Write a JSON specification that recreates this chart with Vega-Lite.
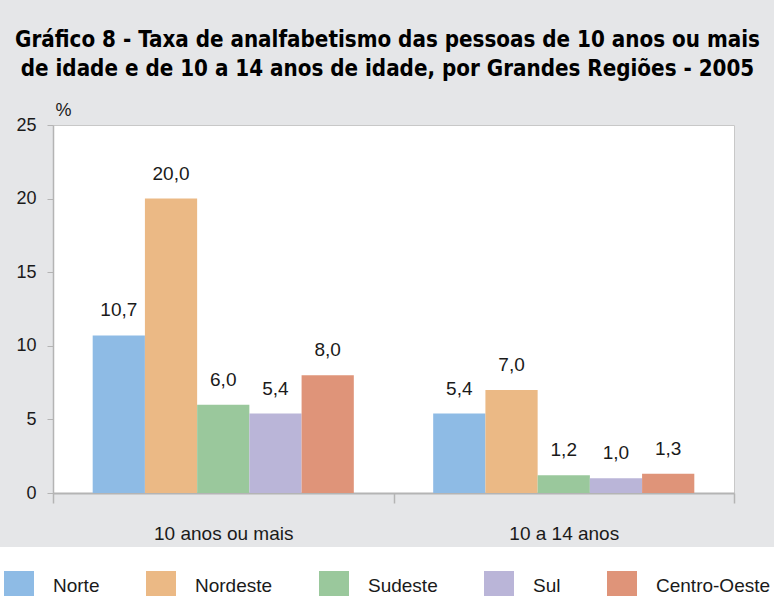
{
  "$schema": "https://vega.github.io/schema/vega-lite/v6.json",
  "width": 681,
  "height": 368,
  "autosize": {"type": "none"},
  "padding": {"left": 53, "top": 125, "right": 40, "bottom": 103},
  "background": "#e5e6e8",
  "config": {
    "locale": {"number": {"decimal": ",", "thousands": ".", "grouping": [3], "currency": ["R$", ""]}},
    "view": {"fill": "white", "stroke": "#c8c8c8"},
    "font": "Liberation Sans"
  },
  "title": {
    "text": ["Gráfico 8 - Taxa de analfabetismo das pessoas de 10 anos ou mais", "de idade e de 10 a 14 anos de idade, por Grandes Regiões - 2005"],
    "font": "DejaVu Sans Condensed, Liberation Sans",
    "fontSize": 22.2,
    "fontWeight": "bold",
    "color": "black",
    "anchor": "middle",
    "frame": "group",
    "dx": -6,
    "lineHeight": 29,
    "offset": 21
  },
  "data": {
    "values": [
      {"grupo": "10 anos ou mais", "regiao": "Norte", "valor": 10.7},
      {"grupo": "10 anos ou mais", "regiao": "Nordeste", "valor": 20.0},
      {"grupo": "10 anos ou mais", "regiao": "Sudeste", "valor": 6.0},
      {"grupo": "10 anos ou mais", "regiao": "Sul", "valor": 5.4},
      {"grupo": "10 anos ou mais", "regiao": "Centro-Oeste", "valor": 8.0},
      {"grupo": "10 a 14 anos", "regiao": "Norte", "valor": 5.4},
      {"grupo": "10 a 14 anos", "regiao": "Nordeste", "valor": 7.0},
      {"grupo": "10 a 14 anos", "regiao": "Sudeste", "valor": 1.2},
      {"grupo": "10 a 14 anos", "regiao": "Sul", "valor": 1.0},
      {"grupo": "10 a 14 anos", "regiao": "Centro-Oeste", "valor": 1.3}
    ]
  },
  "encoding": {
    "x": {
      "field": "grupo",
      "type": "nominal",
      "sort": ["10 anos ou mais", "10 a 14 anos"],
      "scale": {"paddingInner": 0, "paddingOuter": 0},
      "axis": {
        "title": null,
        "labelAngle": 0,
        "tickBand": "extent",
        "tickSize": 10,
        "tickColor": "#b4b4b4",
        "tickWidth": 1.5,
        "domainColor": "#b4b4b4",
        "domainWidth": 2,
        "labelFontSize": 19,
        "labelColor": "#1a1a1a",
        "labelPadding": 21
      }
    },
    "xOffset": {
      "field": "regiao",
      "sort": ["Norte", "Nordeste", "Sudeste", "Sul", "Centro-Oeste"],
      "scale": {"paddingInner": 0, "paddingOuter": 0.76}
    },
    "y": {
      "field": "valor",
      "type": "quantitative",
      "scale": {"domain": [0, 25]},
      "axis": {
        "values": [0, 5, 10, 15, 20, 25],
        "grid": false,
        "tickSize": 6,
        "tickColor": "#b4b4b4",
        "domainColor": "#b4b4b4",
        "domainWidth": 1.5,
        "labelFontSize": 18,
        "labelColor": "#1a1a1a",
        "labelPadding": 11,
        "title": "%",
        "titleAngle": 0,
        "titleAlign": "left",
        "titleBaseline": "middle",
        "titleX": 2,
        "titleY": -15,
        "titleFontSize": 18,
        "titleFontWeight": "normal",
        "titleColor": "#1a1a1a"
      }
    }
  },
  "layer": [
    {
      "mark": {"type": "bar"},
      "encoding": {
        "color": {
          "field": "regiao",
          "type": "nominal",
          "scale": {
            "domain": ["Norte", "Nordeste", "Sudeste", "Sul", "Centro-Oeste"],
            "range": ["#8ebbe5", "#ebb985", "#9ac89c", "#bab5d8", "#df9479"]
          },
          "legend": {
            "title": null,
            "orient": "none",
            "legendX": -73,
            "legendY": 422,
            "direction": "horizontal",
            "fillColor": "white",
            "padding": 24,
            "symbolType": "square",
            "symbolSize": 900,
            "symbolStrokeWidth": 0,
            "symbolOpacity": 1,
            "labelFontSize": 19,
            "labelColor": "#1a1a1a",
            "labelOffset": 19,
            "columnPadding": 46
          }
        }
      }
    },
    {
      "mark": {"type": "text", "dy": -19, "baseline": "alphabetic", "fontSize": 19, "color": "#1a1a1a"},
      "encoding": {
        "text": {"field": "valor", "type": "quantitative", "format": ".1f"}
      }
    }
  ]
}
